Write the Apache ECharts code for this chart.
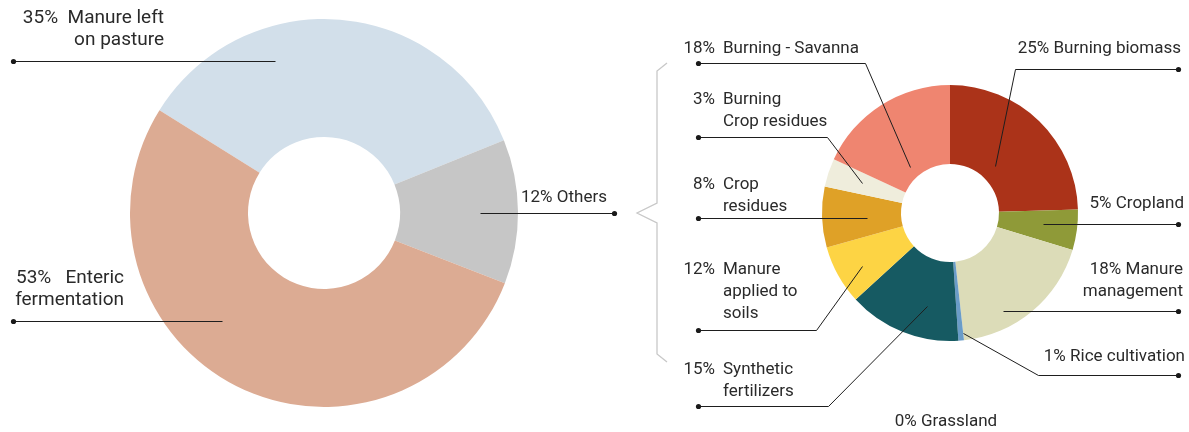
<!DOCTYPE html>
<html>
<head>
<meta charset="utf-8">
<title>Emission sources</title>
<script src="https://cdn.jsdelivr.net/npm/echarts@6/dist/echarts.min.js"></script>
<style>
  html, body { margin: 0; padding: 0; background: #fff; }
  #chart { width: 1189px; height: 432px; }
</style>
</head>
<body>
<div id="chart"></div>
<script>
  // left donut
  const leftNames = ['Manure left\non pasture', 'Others', 'Enteric\nfermentation']
  const leftPct = ['35%', '12%', '53%']
  const leftValues = [35, 12, 53]

  // right donut: breakdown of "Others" (slice sizes as drawn, percentages as printed)
  const rightNames = ['Burning biomass', 'Cropland', 'Manure\nmanagement', 'Rice cultivation', 'Grassland',
    'Synthetic\nfertilizers', 'Manure\napplied to\nsoils', 'Crop\nresidues', 'Burning\nCrop residues', 'Burning - Savanna']
  const rightPct = ['25%', '5%', '18%', '1%', '0%', '15%', '12%', '8%', '3%', '18%']
  const rightValues = [24.7, 5.1, 18.7, 0.7, 0, 14.3, 7.5, 7.7, 3.6, 18.2]

  const leftColors = ['#d2dfea', '#c6c6c6', '#dcab93']
  const rightColors = ['#ab3319', '#8f9a38', '#dcdcb8', '#6a9cc8', '#7f9f6a', '#165a62', '#fdd444', '#dfa127', '#efeddc', '#ef8570']

  // label anchors [x, y, align] and leader lines (first point inside slice, last point = dot)
  const leftLabelPos = [[164, 7, 'right'], [521, 187, 'left'], [124, 267, 'right']]
  const leftLeaders = [[[275, 61], [13, 61]], [[480, 213], [614, 213]], [[222, 321], [13, 321]]]
  const leftGap = ['  ', ' ', '   ']

  const rightLabelPos = [[1181, 38, 'right'], [1184, 193, 'right'], [1183, 259, 'right'], [1185, 346, 'right'],
    [946, 411, 'center'], [683, 359, 'left'], [683, 259, 'left'], [683, 174, 'left'], [683, 89, 'left'], [683, 38, 'left']]
  const rightLeaders = [
    [[995, 166], [1015, 69], [1178, 69]],
    [[1043, 224], [1178, 224]],
    [[1003, 311], [1178, 311]],
    [[963, 333], [1038, 375], [1178, 375]],
    null,
    [[927, 306], [828, 406], [698, 406]],
    [[862, 266], [816, 330], [698, 330]],
    [[867, 218], [698, 218]],
    [[862, 183], [827, 137], [698, 137]],
    [[910, 167], [865, 63], [698, 63]]
  ]

  const textColor = '#2a2a2a'
  const font = 'Roboto, sans-serif'
  const pctColumn = 32 // width of the right-aligned percentage column
  const nameGap = 8

  // measure text so the percentages line up right-aligned in their column
  const ctx = document.createElement('canvas').getContext('2d')
  ctx.font = '17px Roboto'
  const rich = {
    m: { fontSize: 17, lineHeight: 22, color: textColor, fontFamily: font },
    n: { fontSize: 17, lineHeight: 22, color: textColor, fontFamily: font, padding: [0, 0, 0, pctColumn + nameGap] }
  }
  rightPct.forEach((t, i) => {
    rich['p' + i] = {
      fontSize: 17, lineHeight: 22, color: textColor, fontFamily: font,
      padding: [0, nameGap, 0, Math.max(0, pctColumn - ctx.measureText(t).width)]
    }
  })

  // half-pixel shift keeps 1px leader lines crisp
  const crisp = pts => pts && pts.map(p => [p[0] + 0.5, p[1] + 0.5])

  const chart = echarts.init(document.getElementById('chart'), null, { renderer: 'canvas' })

  // dots at the outer end of every leader line
  const dots = leftLeaders.concat(rightLeaders).filter(Boolean).map(pts => ({
    type: 'circle',
    shape: { cx: pts[pts.length - 1][0] + 0.5, cy: pts[pts.length - 1][1] + 0.5, r: 2.6 },
    style: { fill: '#1a1a1a' },
    z: 10
  }))

  const leftGeom = { center: [324, 213], radius: [76, 194], startAngle: 148 }
  const rightGeom = { center: [950, 213], radius: [49, 128], startAngle: 90 }
  const lineStyle = { color: '#1e1e1e', width: 1 }

  // coloured rings (no labels)
  function ring (geom, values, names, colors) {
    return Object.assign({
      type: 'pie',
      z: 2,
      clockwise: true,
      silent: true,
      emphasis: { disabled: true },
      label: { show: false },
      labelLine: { show: false },
      data: values.map((v, i) => ({ value: v, name: names[i], itemStyle: { color: colors[i] } }))
    }, geom)
  }

  // transparent copy on top that carries labels and leader lines
  function labels (geom, values, names, leaders, label, layout) {
    return Object.assign({
      type: 'pie',
      z: 5,
      clockwise: true,
      silent: true,
      emphasis: { disabled: true },
      itemStyle: { color: 'rgba(0,0,0,0)' },
      label: Object.assign({ show: true, position: 'outside', width: 300, overflow: 'none' }, label),
      labelLine: { show: true, lineStyle: lineStyle },
      labelLayout: layout,
      data: values.map((v, i) => ({ value: v, name: names[i], labelLine: { show: leaders[i] !== null } }))
    }, geom)
  }

  const option = {
    animation: false,
    backgroundColor: '#fff',
    graphic: [
      // brace linking "Others" to the breakdown
      {
        type: 'polyline',
        shape: { points: [[667, 63], [657, 71], [657, 203], [637, 213], [657, 223], [657, 354], [667, 362]] },
        style: { stroke: '#c8c8c8', lineWidth: 1.3, fill: null }
      }
    ].concat(dots),
    series: [
      ring(leftGeom, leftValues, leftNames, leftColors),
      ring(rightGeom, rightValues, rightNames, rightColors),
      labels(leftGeom, leftValues, leftNames, leftLeaders, {
        color: textColor,
        fontFamily: font,
        fontSize: 19,
        lineHeight: 22,
        formatter: p => leftPct[p.dataIndex] + leftGap[p.dataIndex] + leftNames[p.dataIndex]
      }, p => ({
        x: leftLabelPos[p.dataIndex][0],
        y: leftLabelPos[p.dataIndex][1],
        align: leftLabelPos[p.dataIndex][2],
        verticalAlign: 'top',
        fontSize: p.dataIndex === 1 ? 17 : 19,
        labelLinePoints: crisp(leftLeaders[p.dataIndex])
      })),
      labels(rightGeom, rightValues, rightNames, rightLeaders, {
        color: textColor,
        fontFamily: font,
        fontSize: 17,
        lineHeight: 22,
        formatter: p => {
          const i = p.dataIndex
          if (i < 5) return '{m|' + (rightPct[i] + ' ' + rightNames[i]).split('\n').join('}\n{m|') + '}'
          return rightNames[i].split('\n')
            .map((line, k) => k === 0 ? '{p' + i + '|' + rightPct[i] + '}{m|' + line + '}' : '{n|' + line + '}')
            .join('\n')
        },
        rich: rich
      }, p => {
        const pos = rightLabelPos[p.dataIndex]
        const out = { x: pos[0], y: pos[1], align: pos[2], verticalAlign: 'top' }
        if (rightLeaders[p.dataIndex]) out.labelLinePoints = crisp(rightLeaders[p.dataIndex])
        return out
      })
    ]
  }

  option && chart.setOption(option)
</script>
</body>
</html>
